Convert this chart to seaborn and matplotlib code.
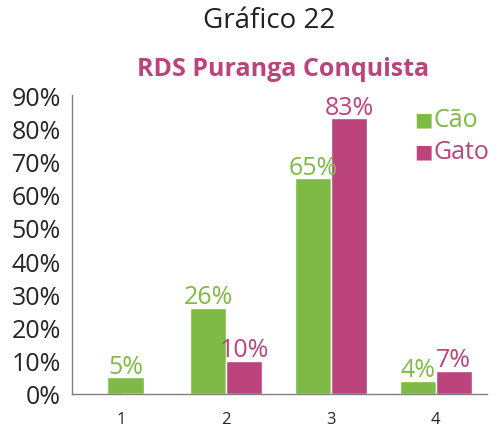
import matplotlib
matplotlib.use("Agg")
import matplotlib.pyplot as plt
import seaborn as sns
import pandas as pd

categorias = ["1", "2", "3", "4"]
cao = [5, 26, 65, 4]
gato = [0, 10, 83, 7]
series = ["Cão", "Gato"]
cores = ["#7FBA47", "#BB447D"]

sns.set_style("white")
plt.rcParams["font.family"] = ["Open Sans", "DejaVu Sans"]

df = pd.DataFrame({
    "cat": categorias * 2,
    "valor": [v / 100 for v in cao + gato],
    "serie": [series[0]] * 4 + [series[1]] * 4,
})

fig = plt.figure(figsize=(5.01, 4.35), dpi=100)
ax = fig.add_axes([0.144, 0.092, 0.828, 0.687])
sns.barplot(data=df, x="cat", y="valor", hue="serie", palette=cores,
            width=0.69, saturation=1, ax=ax, legend=False)

# categoria 1 só tem Cão: centraliza a barra
cont_cao, cont_gato = ax.containers[0], ax.containers[1]
b = cont_cao.patches[0]
b.set_x(b.get_x() + b.get_width() / 2 + 0.04)

for cont, vals, cor in zip([cont_cao, cont_gato], [cao, gato], cores):
    labels = [f"{v}%" if v > 0 else "" for v in vals]
    ax.bar_label(cont, labels=labels, color=cor, fontsize=18, padding=-1)

ax.set_ylim(0, 0.9)
ax.set_xlim(-0.47, 3.49)
ax.set_yticks([i / 10 for i in range(10)])
ax.set_yticklabels([f"{i * 10}%" for i in range(10)], fontsize=18)
ax.tick_params(axis="x", labelsize=12, length=0, pad=12)
ax.tick_params(axis="y", length=0, pad=8)
ax.set_xlabel("")
ax.set_ylabel("")
sns.despine(ax=ax, top=True, right=True)
for s in ["left", "bottom"]:
    ax.spines[s].set_color("#808080")
    ax.spines[s].set_linewidth(1)

# legenda com texto colorido
for i, (nome, cor) in enumerate(zip(series, cores)):
    y = 0.724 - i * 0.074
    fig.text(0.826, y, "■", color=cor, fontsize=14, va="center")
    fig.text(0.866, y, nome, color=cor, fontsize=18, va="center")

fig.text(0.537, 0.952, "Gráfico 22", ha="center", va="center", fontsize=20, color="#222222")
fig.text(0.565, 0.84, "RDS Puranga Conquista", ha="center", va="center",
         fontsize=18, fontweight="bold", color="#BB447D")

fig.savefig("out.png", dpi=100)
